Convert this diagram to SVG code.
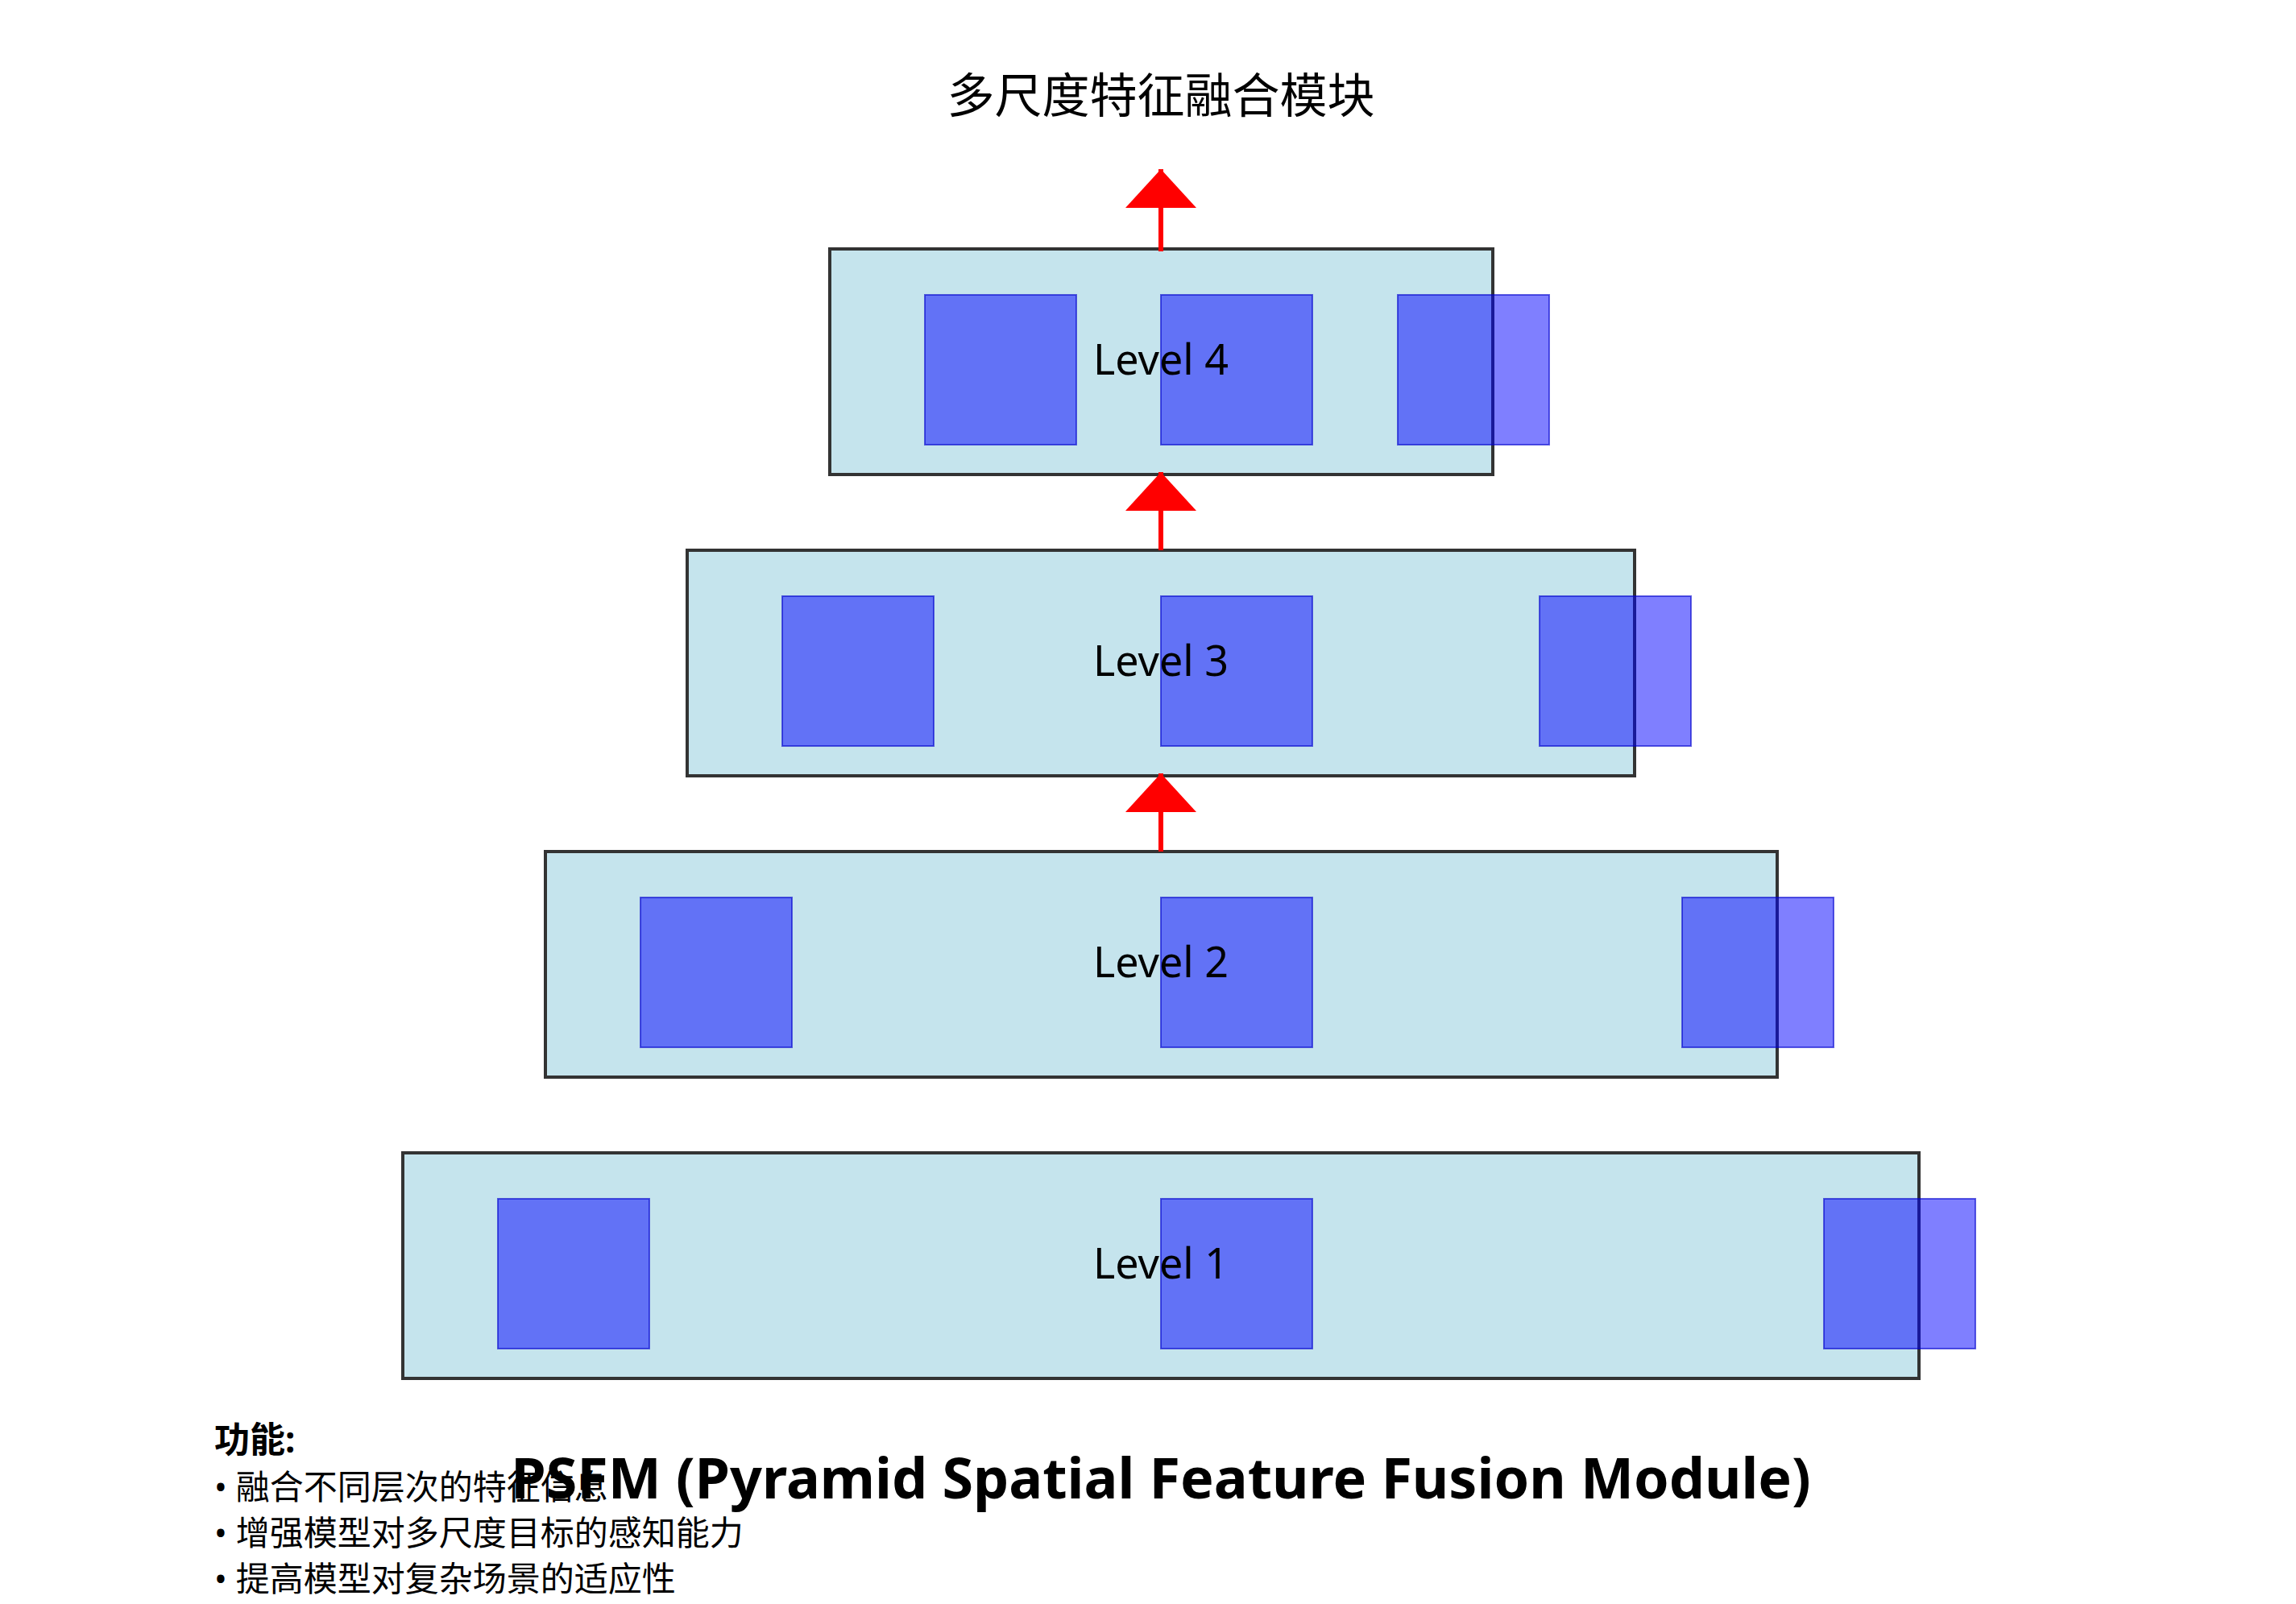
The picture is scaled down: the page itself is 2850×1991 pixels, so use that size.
<svg xmlns="http://www.w3.org/2000/svg" width="2850" height="1991" viewBox="0 0 2850 1991">
<style>
text{font-family:"Noto Sans","Noto Sans CJK SC",sans-serif;fill:#000}
.box{fill:#ADD8E6;fill-opacity:0.7;stroke:#333;stroke-width:4}
.sq{fill:#0000FF;fill-opacity:0.5;stroke:#0000CC;stroke-opacity:0.6;stroke-width:2}
.lbl{font-size:52px;text-anchor:middle}
.arr{stroke:#FF0000;stroke-width:6}
.feat{font-size:42px}
</style>
<rect width="2850" height="1991" fill="#fff"/>
<text x="1441" y="140" font-size="59" text-anchor="middle">多尺度特征融合模块</text>
<g id="level1"><rect class="box" x="500" y="1431" width="1882" height="280"/><rect class="sq" x="618" y="1488" width="188" height="186"/><rect class="sq" x="1441" y="1488" width="188" height="186"/><rect class="sq" x="2264" y="1488" width="188" height="186"/><text class="lbl" x="1441" y="1587">Level 1</text></g>
<g id="level2"><rect class="box" x="677" y="1057" width="1529" height="280"/><rect class="sq" x="795" y="1114" width="188" height="186"/><rect class="sq" x="1441" y="1114" width="188" height="186"/><rect class="sq" x="2088" y="1114" width="188" height="186"/><text class="lbl" x="1441" y="1213">Level 2</text></g>
<g id="level3"><rect class="box" x="853" y="683" width="1176" height="280"/><rect class="sq" x="971" y="740" width="188" height="186"/><rect class="sq" x="1441" y="740" width="188" height="186"/><rect class="sq" x="1911" y="740" width="188" height="186"/><text class="lbl" x="1441" y="839">Level 3</text></g>
<g id="level4"><rect class="box" x="1030" y="309" width="823" height="280"/><rect class="sq" x="1148" y="366" width="188" height="186"/><rect class="sq" x="1441" y="366" width="188" height="186"/><rect class="sq" x="1735" y="366" width="188" height="186"/><text class="lbl" x="1441" y="465">Level 4</text></g>
<g id="connectors">
<path d="M1441,1057L1441,960" class="arr"/><path d="M1397,1008L1441,960L1485,1008z" fill="#FF0000"/>
<path d="M1441,683L1441,586" class="arr"/><path d="M1397,634L1441,586L1485,634z" fill="#FF0000"/>
<path d="M1441,312L1441,210" class="arr"/><path d="M1397,258L1441,210L1485,258z" fill="#FF0000"/>
</g>
<text x="1441" y="1860" font-size="70" font-weight="bold" text-anchor="middle">PSFM (Pyramid Spatial Feature Fusion Module)</text>
<g id="features">
<text x="266" y="1803" font-size="44" font-weight="bold">功能:</text>
<text class="feat" x="266" y="1861">• 融合不同层次的特征信息</text>
<text class="feat" x="266" y="1918">• 增强模型对多尺度目标的感知能力</text>
<text class="feat" x="266" y="1975">• 提高模型对复杂场景的适应性</text>
</g>
</svg>
